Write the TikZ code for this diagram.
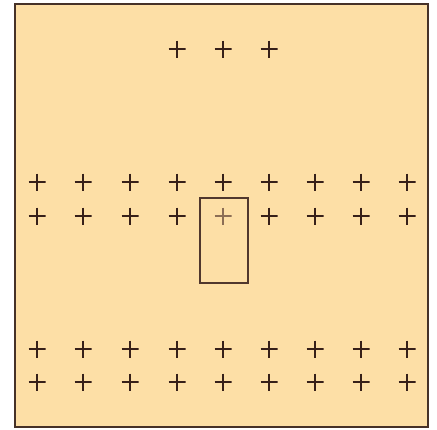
\documentclass[tikz,border=0pt]{standalone}
\begin{document}
\begin{tikzpicture}[x=1pt,y=-1pt,
  ink/.style={color={rgb,255:red,60;green,38;blue,28}},
  plusnode/.style={minimum size=17pt, inner sep=0pt, outer sep=0pt,
    path picture={\draw[line width=1.5pt,#1]
      (path picture bounding box.north) -- (path picture bounding box.south)
      (path picture bounding box.west) -- (path picture bounding box.east);}},
  plusnode/.default={color={rgb,255:red,55;green,32;blue,25}},
  frame/.style={draw={rgb,255:red,70;green,50;blue,40}, line width=1.5pt, fill={rgb,255:red,253;green,223;blue,166}},
  target/.style={draw={rgb,255:red,80;green,55;blue,45}, line width=1.2pt}
]
\useasboundingbox (0,0) rectangle (437,429);
\fill[white] (0,0) rectangle (437,429);
\path[frame] (15,4) rectangle (428,427);
% top row
\foreach \x [count=\i] in {177,223,269}
  \node[plusnode] (t\i) at (\x,49) {};
% rows
\foreach \y [count=\r] in {182,216,349,382}
  \foreach \x [count=\c] in {37,83,130,177,223,269,315,361,407}
    {\ifnum\r=2 \ifnum\c=5 \else \node[plusnode] (p\r-\c) at (\x,\y) {}; \fi
     \else \node[plusnode] (p\r-\c) at (\x,\y) {}; \fi}
\node[plusnode={color={rgb,255:red,140;green,110;blue,85}}] (p2-5) at (223,216) {};
\node[target, minimum width=48pt, minimum height=85pt, inner sep=0pt] (box) at (224,240.5) {};
\end{tikzpicture}
\end{document}
